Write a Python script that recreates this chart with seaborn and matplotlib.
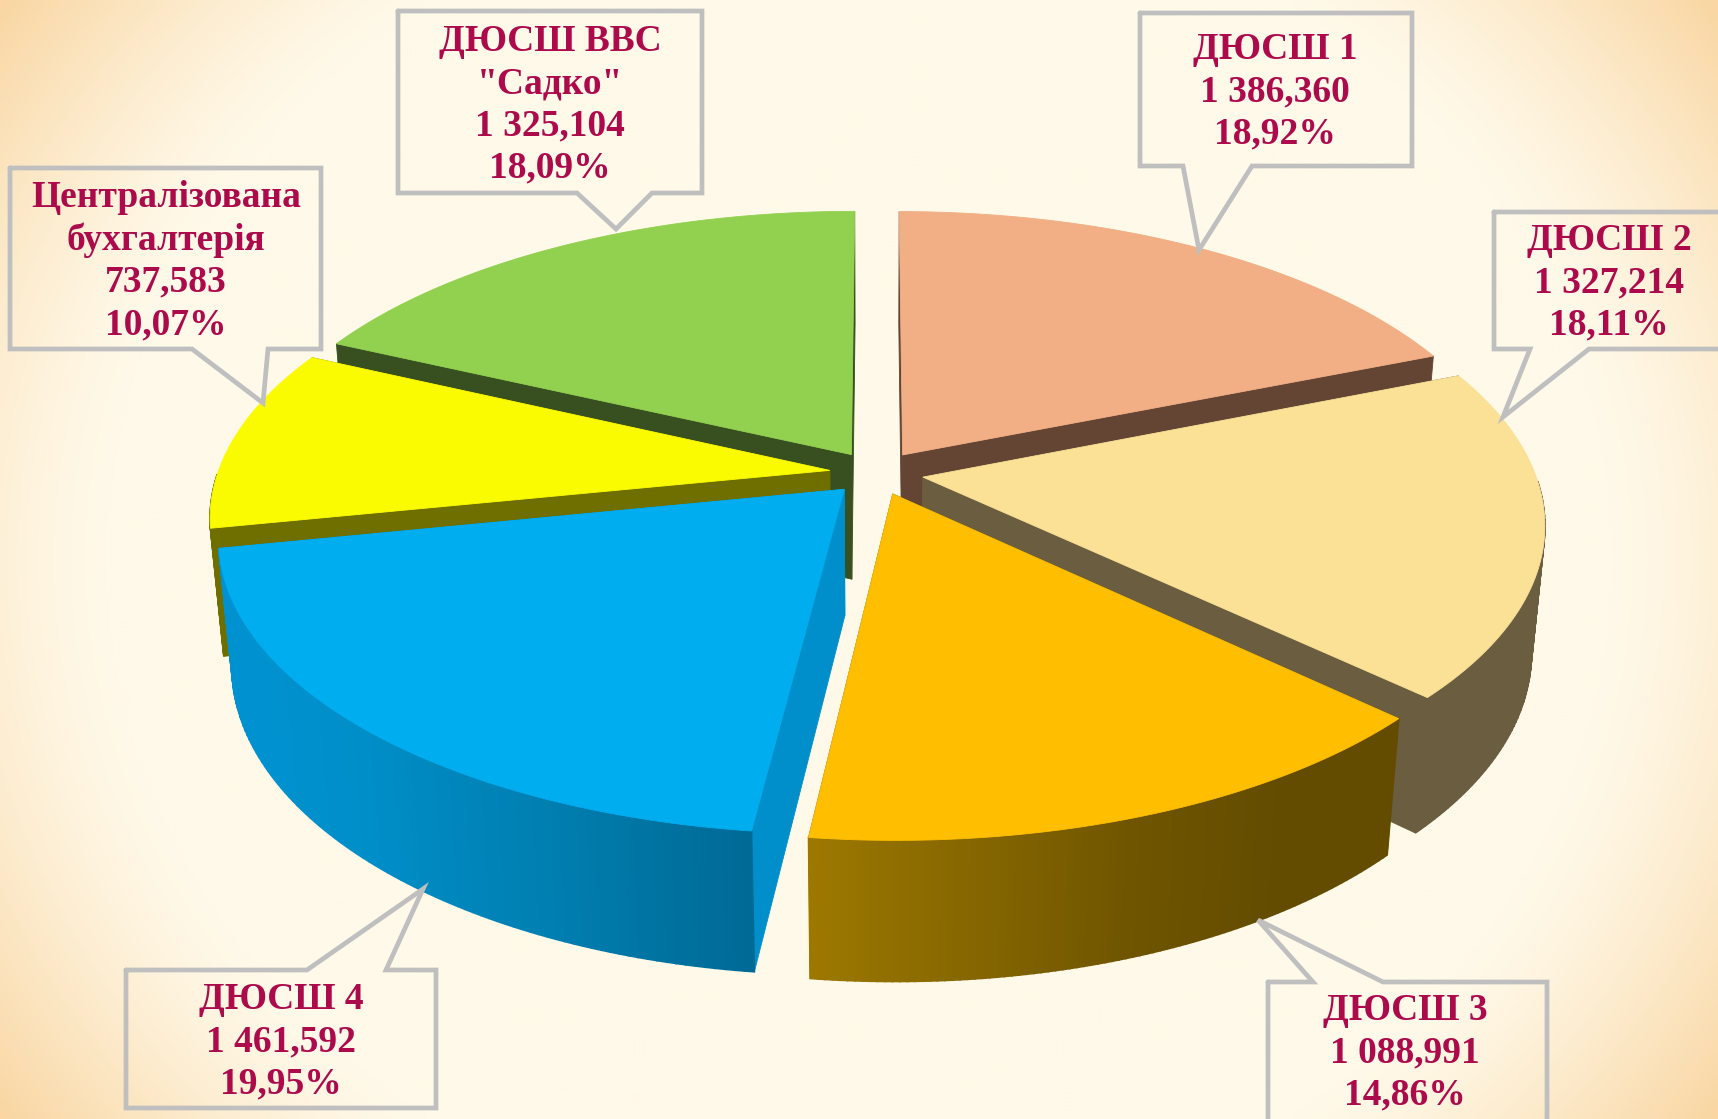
import numpy as np
import matplotlib
matplotlib.use("Agg")
import matplotlib.pyplot as plt
import seaborn as sns

# ---- data (clockwise from 12 o'clock) ----
names = ["ДЮСШ 1", "ДЮСШ 2", "ДЮСШ 3", "ДЮСШ 4", "Централізована\nбухгалтерія", "ДЮСШ ВВС\n\"Садко\""]
values = [1386.360, 1327.214, 1088.991, 1461.592, 737.583, 1325.104]
value_labels = ["1 386,360", "1 327,214", "1 088,991", "1 461,592", "737,583", "1 325,104"]
pct_labels = ["18,92%", "18,11%", "14,86%", "19,95%", "10,07%", "18,09%"]

# ---- styles ----
top_colors = ["#F2AE84", "#FAE196", "#FFBF00", "#00ADEF", "#FBFB00", "#92D050"]
side_colors = ["#644534", "#6B5D3F", "#6B5000", "#008FCB", "#6F6F00", "#385020"]
rim_colors = [["#644534", "#644534"], ["#6B5D3F", "#6B5D3F"],
              ["#634C00", "#634C00", "#6E5400", "#846500", "#9C7800"],
              ["#006A96", "#0080B2", "#008EC8", "#0092D0", "#0092D0"],
              ["#6F6F00", "#6F6F00"], ["#385020", "#385020"]]
draw_order = [0, 5, 4, 1, 2, 3]

# callouts: box x0, x1, y0, y1, pointer base a, b, tip x, y, text centre x, y (pixels)
callouts = [
    (1140, 1412, 13, 166, 1183, 1252, 1199, 250, 1275, 92, "bottom"),
    (1494, 1730, 212, 349, 1530, 1589, 1503, 417, 1609, 283, "bottom"),
    (1268, 1547, 982, 1130, 1313, 1383, 1258, 920, 1405, 1053, "top"),
    (126, 436, 970, 1108, 307, 386, 423, 889, 281, 1042, "top"),
    (10, 321, 168, 349, 192, 268, 263, 403, 166, 261, "bottom"),
    (398, 702, 11, 193, 577, 652, 616, 229, 550, 105, "bottom"),
]

W, H_PX = 1718, 1119
CX, CY, A, B, P, Q, DEPTH, EXPL = 876.5, 473, 612, 286, 0.154, 0.02, 128, 0.077


def proj(u, v, h=0.0):
    w = 1 + P * v + Q * h
    return CX + A * u / w, CY - (B * v - DEPTH * h) / w


sns.set_theme(style="white")
plt.rcParams["font.family"] = ["Liberation Serif", "DejaVu Serif"]
fig = plt.figure(figsize=(W / 100, H_PX / 100), dpi=100)
ax = fig.add_axes([0, 0, 1, 1])
ax.set_xlim(0, W)
ax.set_ylim(H_PX, 0)
ax.axis("off")

# background glow
gx, gy = np.meshgrid(np.linspace(-1, 1, 430), np.linspace(-1, 1, 280))
t = np.clip((np.hypot(gx, gy * 0.72) - 0.88) / 0.36, 0, 1) ** 1.3
c0, c1 = np.array(matplotlib.colors.to_rgb("#FFF9E9")), np.array(matplotlib.colors.to_rgb("#F9D5A0"))
ax.imshow(c0 + (c1 - c0) * t[..., None], extent=(0, W, H_PX, 0), aspect="auto", zorder=0, interpolation="bilinear")
ax.set_xlim(0, W)
ax.set_ylim(H_PX, 0)

shares = np.array(values) / np.sum(values) * 360.0
ends = 90 - np.cumsum(shares)
starts = ends + shares


def fill(xs, ys, color, z, lw=0.6):
    ax.fill(xs, ys, facecolor=color, edgecolor=color, lw=lw, zorder=z)


z = 2
for i in draw_order:
    a0, a1 = starts[i], ends[i]
    mid = np.radians((a0 + a1) / 2)
    ou, ov = EXPL * np.cos(mid), EXPL * np.sin(mid)
    th = np.radians(np.linspace(a0, a1, 90))
    us, vs = ou + np.cos(th), ov + np.sin(th)
    # radial faces
    for k in (0, -1):
        xs, ys = zip(proj(ou, ov), proj(us[k], vs[k]), proj(us[k], vs[k], 1), proj(ou, ov, 1))
        fill(xs, ys, side_colors[i], z)
    z += 1
    # outer rim with a gradient along the arc
    grad = sns.blend_palette(rim_colors[i], 89)
    for k in range(89):
        if np.sin(th[k]) < -0.02 or np.sin(th[k + 1]) < -0.02:
            xs, ys = zip(proj(us[k], vs[k]), proj(us[k + 1], vs[k + 1]),
                         proj(us[k + 1], vs[k + 1], 1), proj(us[k], vs[k], 1))
            fill(xs, ys, grad[k], z, lw=1.2)
    z += 1
    # top surface
    xt, yt = proj(np.r_[ou, us], np.r_[ov, vs])
    fill(xt, yt, top_colors[i], z)
    z += 1

# callouts
for i, c in enumerate(callouts):
    x0, x1, y0, y1, a, b, tx, ty, cx, cy, side = c
    if side == "bottom":
        xs = [x0, x1, x1, b, tx, a, x0, x0]
        ys = [y0, y0, y1, y1, ty, y1, y1, y0]
    else:
        xs = [x0, a, tx, b, x1, x1, x0, x0]
        ys = [y0, y0, ty, y0, y0, y1, y1, y0]
    ax.plot(xs, ys, color="#BFBFBF", lw=3.4, solid_joinstyle="miter", zorder=50)
    label = f"{names[i]}\n{value_labels[i]}\n{pct_labels[i]}"
    ax.text(cx, cy, label, ha="center", va="center", ma="center", color="#AC0A4B",
            fontsize=27, fontweight="bold", linespacing=1.27, zorder=51)

fig.savefig("out.png", dpi=100)
